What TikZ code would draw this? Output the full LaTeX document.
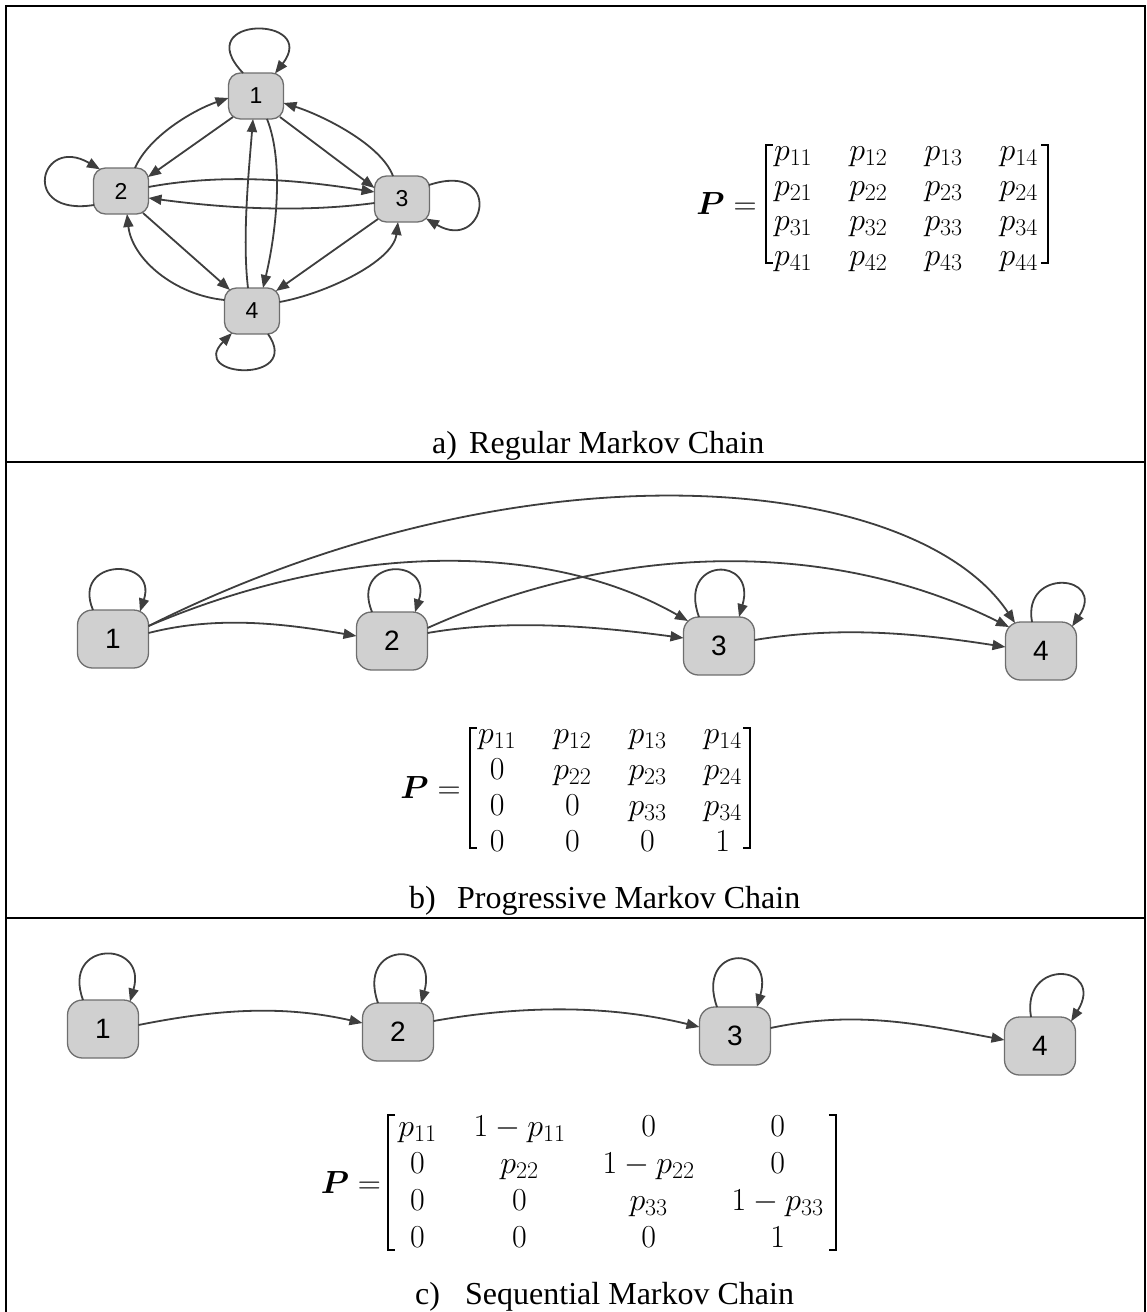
\RequirePackage{fix-cm}
\documentclass[tikz,border=0pt]{standalone}
\usepackage{amsmath}
\usepackage[no-math]{fontspec}
\setmainfont{Liberation Serif}
\setsansfont{Liberation Sans}
\DeclareMathSizes{32}{32}{24}{18}
\usetikzlibrary{arrows.meta}
\definecolor{nodegray}{HTML}{D0D0D0}
\definecolor{bordgray}{HTML}{6E6E6E}
\definecolor{linegray}{HTML}{3E3E3E}
\begin{document}
\begin{tikzpicture}[x=1pt,y=-1pt,
  conn/.style={draw=linegray, line width=1.8pt, -{Triangle[length=13pt,width=10pt]}},
  stA/.style={draw=bordgray, fill=nodegray, line width=1.3pt, rounded corners=12pt,
    minimum width=55pt, minimum height=46pt, inner sep=0pt,
    font=\sffamily\fontsize{23}{23}\selectfont},
  stB/.style={draw=bordgray, fill=nodegray, line width=1.3pt, rounded corners=15pt,
    minimum width=71pt, minimum height=58pt, inner sep=0pt,
    font=\sffamily\fontsize{28}{28}\selectfont},
  frameline/.style={line width=2.2pt, black},
  brk/.style={line width=1.8pt, black},
  capt/.style={anchor=base west, inner sep=0pt, font=\fontsize{32}{38}\selectfont},
  matnode/.style={inner sep=0pt},
  peq/.style={anchor=base east, inner sep=0pt, font=\fontsize{32}{35}\selectfont},
]
\useasboundingbox (0,0) rectangle (1147,1312);
% frame
\draw[frameline] (6,1312) -- (6,6) -- (1145,6) -- (1145,1312);
\draw[frameline] (6,462) -- (1145,462);
\draw[frameline] (6,918) -- (1145,918);

% ---------------- panel a ----------------
\node[stA] (a1) at (256,96) {1};
\node[stA] (a2) at (121,191) {2};
\node[stA] (a3) at (402,199) {3};
\node[stA] (a4) at (252,311) {4};

\draw[conn] ([shift={(14,-23)}]a2.center) .. controls +(14,-32) and +(-35,12) .. ([shift={(-27.5,2)}]a1.center);
\draw[conn] ([shift={(-23,21)}]a1.center) -- ([shift={(27,-14)}]a2.center);
\draw[conn] ([shift={(24,21)}]a1.center) -- ([shift={(-27.5,-11)}]a3.center);
\draw[conn] ([shift={(-9,-23)}]a3.center) .. controls +(-12,-32) and +(38,12) .. ([shift={(27.5,7)}]a1.center);
\draw[conn] ([shift={(27.5,-4)}]a2.center) .. controls +(75,-14) and +(-75,-12) .. ([shift={(-27.5,-7)}]a3.center);
\draw[conn] ([shift={(-27.5,4)}]a3.center) .. controls +(-75,10) and +(75,10) .. ([shift={(27.5,7)}]a2.center);
\draw[conn] ([shift={(11,23)}]a1.center) .. controls +(18,45) and +(12,-50) .. ([shift={(11,-23)}]a4.center);
\draw[conn] ([shift={(-4,-23)}]a4.center) .. controls +(-6,-50) and +(-4,50) .. ([shift={(-3,23)}]a1.center);
\draw[conn] ([shift={(22,22)}]a2.center) -- ([shift={(-22,-21)}]a4.center);
\draw[conn] ([shift={(-27.5,-11)}]a4.center) .. controls +(-50,-5) and +(5,45) .. ([shift={(6,23)}]a2.center);
\draw[conn] ([shift={(-24,20)}]a3.center) -- ([shift={(24,-20)}]a4.center);
\draw[conn] ([shift={(27.5,-9)}]a4.center) .. controls +(45,-8) and +(-5,40) .. ([shift={(-4,23)}]a3.center);
% self loops a
\draw[conn] ([shift={(-13,-23)}]a1.center) .. controls +(-55,-58) and +(45,-58) .. ([shift={(19,-22.5)}]a1.center);
\draw[conn] ([shift={(-27,14)}]a2.center) .. controls +(-75,12) and +(-60,-35) .. ([shift={(-21,-21.7)}]a2.center);
\draw[conn] ([shift={(27,-14)}]a3.center) .. controls +(75,-25) and +(60,35) .. ([shift={(24,19.5)}]a3.center);
\draw[conn] ([shift={(16,23)}]a4.center) .. controls +(35,50) and +(-45,45) .. ([shift={(-20,22)}]a4.center);

% matrix a
\node[matnode, font=\fontsize{32}{35}\selectfont] (Ma) at (906,206)
  {\arraycolsep=18.5pt $\begin{array}{@{}cccc@{}}
   p_{11} & p_{12} & p_{13} & p_{14}\\
   p_{21} & p_{22} & p_{23} & p_{24}\\
   p_{31} & p_{32} & p_{33} & p_{34}\\
   p_{41} & p_{42} & p_{43} & p_{44}
  \end{array}$};
\node[peq] (Pa) at ([shift={(-17,8)}]Ma.west) {$\boldsymbol{P} =$};
\draw[brk] ([shift={(-1,9)}]Ma.north west) -- ([shift={(-8,9)}]Ma.north west) -- ([shift={(-8,-13)}]Ma.south west) -- ([shift={(-1,-13)}]Ma.south west);
\draw[brk] ([shift={(3,9)}]Ma.north east) -- ([shift={(10,9)}]Ma.north east) -- ([shift={(10,-13)}]Ma.south east) -- ([shift={(3,-13)}]Ma.south east);

\node[capt] (ca1) at (432,453) {a)};
\node[capt] (ca2) at (469,453) {Regular Markov Chain};

% ---------------- panel b ----------------
\node[stB] (b1) at (113,639) {1};
\node[stB] (b2) at (392,641) {2};
\node[stB] (b3) at (719,646) {3};
\node[stB] (b4) at (1041,651) {4};

\draw[conn] ([shift={(35.5,-6)}]b1.center) .. controls +(70,-18) and +(-70,-12) .. ([shift={(-35.5,-5)}]b2.center);
\draw[conn] ([shift={(35.5,-13)}]b1.center) .. controls +(200,-85) and +(-140,-80) .. ([shift={(-31,-25)}]b3.center);
\draw[conn] ([shift={(35.5,-13)}]b1.center) .. controls +(380,-190) and +(-100,-150) .. ([shift={(-26,-28)}]b4.center);
\draw[conn] ([shift={(35.5,-8)}]b2.center) .. controls +(80,-14) and +(-90,-12) .. ([shift={(-35.5,-8)}]b3.center);
\draw[conn] ([shift={(35.5,-13)}]b2.center) .. controls +(200,-90) and +(-170,-85) .. ([shift={(-32,-24)}]b4.center);
\draw[conn] ([shift={(35.5,-6)}]b3.center) .. controls +(85,-14) and +(-90,-14) .. ([shift={(-35.5,-4)}]b4.center);
% self loops b
\draw[conn] ([shift={(-20,-29)}]b1.center) .. controls +(-22,-52) and +(18,-55) .. ([shift={(27,-27.5)}]b1.center);
\draw[conn] ([shift={(-20,-29)}]b2.center) .. controls +(-22,-54) and +(18,-56) .. ([shift={(23,-28.8)}]b2.center);
\draw[conn] ([shift={(-20,-29)}]b3.center) .. controls +(-22,-60) and +(18,-62) .. ([shift={(20,-29)}]b3.center);
\draw[conn] ([shift={(-9,-29)}]b4.center) .. controls +(-10,-55) and +(35,-52) .. ([shift={(31.1,-24.6)}]b4.center);

% matrix b
\node[matnode, font=\fontsize{32}{36}\selectfont] (Mb) at (610,790)
  {\arraycolsep=18.5pt $\begin{array}{@{}cccc@{}}
   p_{11} & p_{12} & p_{13} & p_{14}\\
   0 & p_{22} & p_{23} & p_{24}\\
   0 & 0 & p_{33} & p_{34}\\
   0 & 0 & 0 & 1
  \end{array}$};
\node[peq] (Pb) at ([shift={(-17,8)}]Mb.west) {$\boldsymbol{P} =$};
\draw[brk] ([shift={(-1,10)}]Mb.north west) -- ([shift={(-8,10)}]Mb.north west) -- ([shift={(-8,-14)}]Mb.south west) -- ([shift={(-1,-14)}]Mb.south west);
\draw[brk] ([shift={(1,10)}]Mb.north east) -- ([shift={(8,10)}]Mb.north east) -- ([shift={(8,-14)}]Mb.south east) -- ([shift={(1,-14)}]Mb.south east);

\node[capt] (cb1) at (409,908) {b)};
\node[capt] (cb2) at (457,908) {Progressive Markov Chain};

% ---------------- panel c ----------------
\node[stB] (c1) at (103,1029) {1};
\node[stB] (c2) at (398,1032) {2};
\node[stB] (c3) at (735,1036) {3};
\node[stB] (c4) at (1040,1046) {4};

\draw[conn] ([shift={(35.5,-4)}]c1.center) .. controls +(80,-16) and +(-80,-18) .. ([shift={(-35.5,-9)}]c2.center);
\draw[conn] ([shift={(35.5,-11)}]c2.center) .. controls +(90,-16) and +(-90,-22) .. ([shift={(-35.5,-9)}]c3.center);
\draw[conn] ([shift={(35.5,-8)}]c3.center) .. controls +(85,-18) and +(-85,-16) .. ([shift={(-35.5,-6)}]c4.center);
% self loops c
\draw[conn] ([shift={(-20,-29)}]c1.center) .. controls +(-22,-60) and +(18,-62) .. ([shift={(27,-27.5)}]c1.center);
\draw[conn] ([shift={(-20,-29)}]c2.center) .. controls +(-22,-62) and +(18,-64) .. ([shift={(23,-28.8)}]c2.center);
\draw[conn] ([shift={(-18,-29)}]c3.center) .. controls +(-22,-62) and +(18,-64) .. ([shift={(22,-28.9)}]c3.center);
\draw[conn] ([shift={(-9,-29)}]c4.center) .. controls +(-10,-60) and +(35,-57) .. ([shift={(31.1,-24.6)}]c4.center);

% matrix c
\node[matnode, font=\fontsize{32}{37}\selectfont] (Mc) at (611,1185)
  {\arraycolsep=18.5pt $\begin{array}{@{}cccc@{}}
   p_{11} & 1-p_{11} & 0 & 0\\
   0 & p_{22} & 1-p_{22} & 0\\
   0 & 0 & p_{33} & 1-p_{33}\\
   0 & 0 & 0 & 1
  \end{array}$};
\node[peq] (Pc) at ([shift={(-17,8)}]Mc.west) {$\boldsymbol{P} =$};
\draw[brk] ([shift={(-3,4)}]Mc.north west) -- ([shift={(-10,4)}]Mc.north west) -- ([shift={(-10,-9)}]Mc.south west) -- ([shift={(-3,-9)}]Mc.south west);
\draw[brk] ([shift={(5,4)}]Mc.north east) -- ([shift={(12,4)}]Mc.north east) -- ([shift={(12,-9)}]Mc.south east) -- ([shift={(5,-9)}]Mc.south east);

\node[capt] (cc1) at (415,1304) {c)};
\node[capt] (cc2) at (465,1304) {Sequential Markov Chain};
\end{tikzpicture}
\end{document}
